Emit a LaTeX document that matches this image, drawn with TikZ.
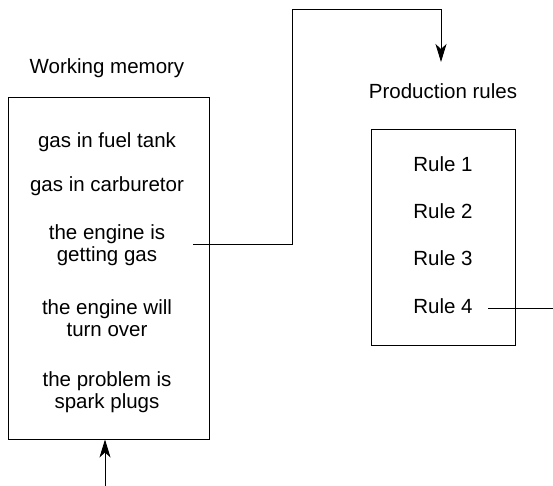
\documentclass[tikz,border=0pt]{standalone}
\usepackage{fontspec}
\setmainfont{Liberation Sans}
\usetikzlibrary{arrows.meta}
\begin{document}
\begin{tikzpicture}[x=1pt,y=-1pt,
  every node/.style={font=\fontsize{20.5}{22}\selectfont, inner sep=0pt, align=center},
  box/.style={draw, line width=0.9pt},
  conn/.style={line width=0.9pt},
  arr/.style={conn, -{Stealth[length=18pt,width=11pt,inset=5pt]}}]
\useasboundingbox (0,0) rectangle (553,486);
% boxes
\node[box, minimum width=201pt, minimum height=342pt] (wm) at (108.5,268) {};
\node[box, minimum width=144pt, minimum height=216pt] (pr) at (443,237) {};
% labels
\node (wmlab) at (107,68) {Working memory};
\node (prlab) at (443,91) {Production rules};
% working memory items
\node (f1) at (107,142) {gas in fuel tank};
\node (f2) at (107,186) {gas in carburetor};
\node (f3) at (107,245) {the engine is\\getting gas};
\node (f4) at (107,318) {the engine will\\turn over};
\node (f5) at (107,392) {the problem is\\spark plugs};
% rules
\node (r1) at (443,164) {Rule 1};
\node (r2) at (443,211) {Rule 2};
\node (r3) at (443,258) {Rule 3};
\node (r4) at (443,306) {Rule 4};
% connectors
\coordinate (s3) at (193,244);
\coordinate (top) at (441,62);
\draw[arr] (s3) -- (292,244) -- (292,9) -- (441,9) -- (top);
\coordinate (bot) at (105,486);
\draw[arr] (bot) -- (bot |- wm.south);
\coordinate (s4) at (488,308);
\coordinate (e4) at (553,308);
\draw[conn] (s4) -- (e4);
\end{tikzpicture}
\end{document}
